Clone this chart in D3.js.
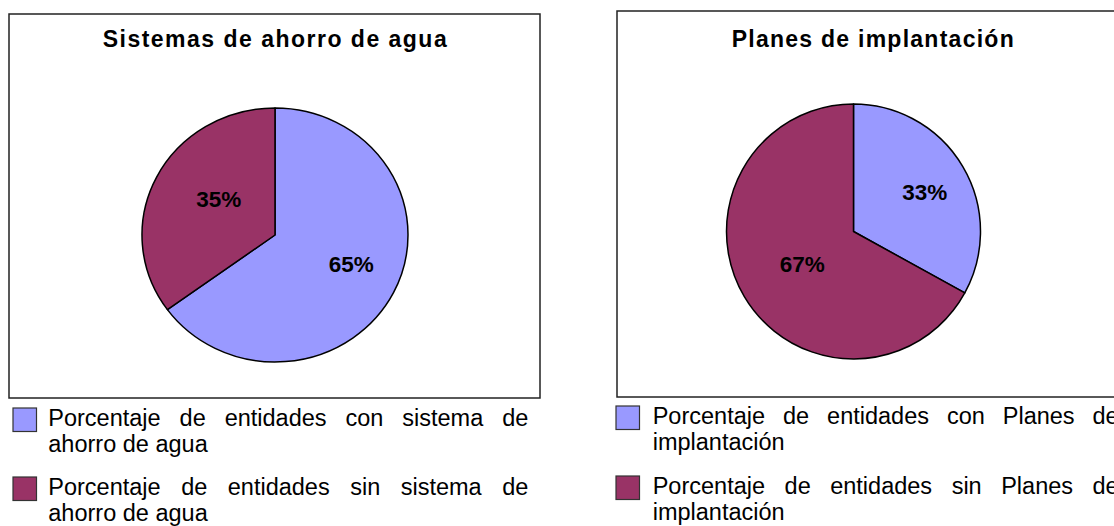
<!DOCTYPE html>
<html>
<head>
<meta charset="utf-8">
<script src="https://cdn.jsdelivr.net/npm/d3@7"></script>
<style>
  html, body { margin: 0; padding: 0; background: #fff; overflow: hidden; }
  svg { display: block; font-family: Arial, "Liberation Sans", sans-serif; }
</style>
</head>
<body>
<svg id="chart" width="1114" height="526"></svg>
<script>
// ---- data ----
const titleA = "Sistemas de ahorro de agua";
const categoriesA = [
  "Porcentaje de entidades con sistema de ahorro de agua",
  "Porcentaje de entidades sin sistema de ahorro de agua"
];
const valuesA = [65, 35];

const titleB = "Planes de implantación";
const categoriesB = [
  "Porcentaje de entidades con Planes de implantación",
  "Porcentaje de entidades sin Planes de implantación"
];
const valuesB = [33, 67];

const sliceColors = ["#9999FF", "#993366"];

// ---- layout ----
const layouts = [
  { title: titleA, cats: categoriesA, vals: valuesA,
    box: { x: 9, y: 14, w: 531, h: 384 },
    titleX: 102.7, titleY: 47.3, titleW: 344,
    pie: { cx: 275, cy: 235, rx: 133, ry: 127 },
    legend: { sqX: 13, textX: 48.3, width: 480, tops: [408, 477] } },
  { title: titleB, cats: categoriesB, vals: valuesB,
    box: { x: 617, y: 11, w: 515, h: 386 },
    titleX: 731.7, titleY: 46.8, titleW: 282,
    pie: { cx: 853.5, cy: 231.5, rx: 127, ry: 127.5 },
    legend: { sqX: 616, textX: 652.7, width: 466, tops: [406, 476] } }
];

const svg = d3.select("#chart");
const color = d3.scaleOrdinal().range(sliceColors);

// text measuring helper
const meas = svg.append("text").attr("visibility", "hidden");
function measure(str, size, weight) {
  meas.attr("font-size", size).attr("font-weight", weight || "normal").text(str);
  return meas.node().getComputedTextLength();
}

layouts.forEach(L => {
  const g = svg.append("g");

  // frame
  g.append("rect")
    .attr("x", L.box.x).attr("y", L.box.y)
    .attr("width", L.box.w).attr("height", L.box.h)
    .attr("fill", "#fff").attr("stroke", "#222").attr("stroke-width", 1.5);

  // title
  g.append("text")
    .attr("x", L.titleX).attr("y", L.titleY)
    .attr("font-size", 23).attr("font-weight", "bold")
    .attr("textLength", L.titleW).attr("lengthAdjust", "spacing")
    .attr("fill", "#000")
    .text(L.title);

  // pie
  const r = L.pie.ry;
  const pie = d3.pie().sort(null).value(d => d)
    .startAngle(0).endAngle(2 * Math.PI);
  const arcs = pie(L.vals);
  const arc = d3.arc().innerRadius(0).outerRadius(r);
  const labelArc = d3.arc().innerRadius(r * 0.56).outerRadius(r * 0.56);
  const sx = L.pie.rx / L.pie.ry;
  const total = d3.sum(L.vals);

  const pg = g.append("g")
    .attr("transform", `translate(${L.pie.cx},${L.pie.cy}) scale(${sx},1)`);
  pg.selectAll("path").data(arcs).enter().append("path")
    .attr("d", arc)
    .attr("fill", (d, i) => color(i))
    .attr("stroke", "#000").attr("stroke-width", 1.5)
    .attr("vector-effect", "non-scaling-stroke")
    .attr("stroke-linejoin", "round");

  const lg = g.append("g")
    .attr("transform", `translate(${L.pie.cx + 10},${L.pie.cy - 3})`);
  lg.selectAll("text").data(arcs).enter().append("text")
    .attr("x", d => labelArc.centroid(d)[0] * sx)
    .attr("y", d => labelArc.centroid(d)[1])
    .attr("text-anchor", "middle")
    .attr("dominant-baseline", "central")
    .attr("font-size", 22.5).attr("font-weight", "bold")
    .attr("fill", "#000")
    .text(d => Math.round(d.value / total * 100) + "%");

  // legend with justified text
  const fs = 23.5, lineH = 26.7;
  const spaceW = measure("a a", fs) - measure("aa", fs);
  L.cats.forEach((cat, i) => {
    const top = L.legend.tops[i];
    g.append("rect")
      .attr("x", L.legend.sqX).attr("y", top)
      .attr("width", 23.5).attr("height", 23.5)
      .attr("fill", color(i)).attr("stroke", "#333").attr("stroke-width", 1.2);

    const words = cat.split(" ").map(w => ({ w, width: measure(w, fs) }));
    // greedy wrap
    const lines = [];
    let cur = [], curW = 0;
    words.forEach(o => {
      const add = cur.length ? curW + spaceW + o.width : o.width;
      if (cur.length && add > L.legend.width) {
        lines.push(cur); cur = [o]; curW = o.width;
      } else { cur.push(o); curW = add; }
    });
    if (cur.length) lines.push(cur);

    const t = g.append("text").attr("font-size", fs).attr("fill", "#000");
    lines.forEach((line, li) => {
      const y = top + 17.7 + li * lineH;
      const isLast = li === lines.length - 1;
      const wordsSum = d3.sum(line, o => o.width);
      const gap = (!isLast && line.length > 1)
        ? (L.legend.width - wordsSum) / (line.length - 1) : spaceW;
      let x = L.legend.textX;
      line.forEach(o => {
        t.append("tspan").attr("x", x).attr("y", y).text(o.w);
        x += o.width + gap;
      });
    });
  });
});
meas.remove();
</script>
</body>
</html>
